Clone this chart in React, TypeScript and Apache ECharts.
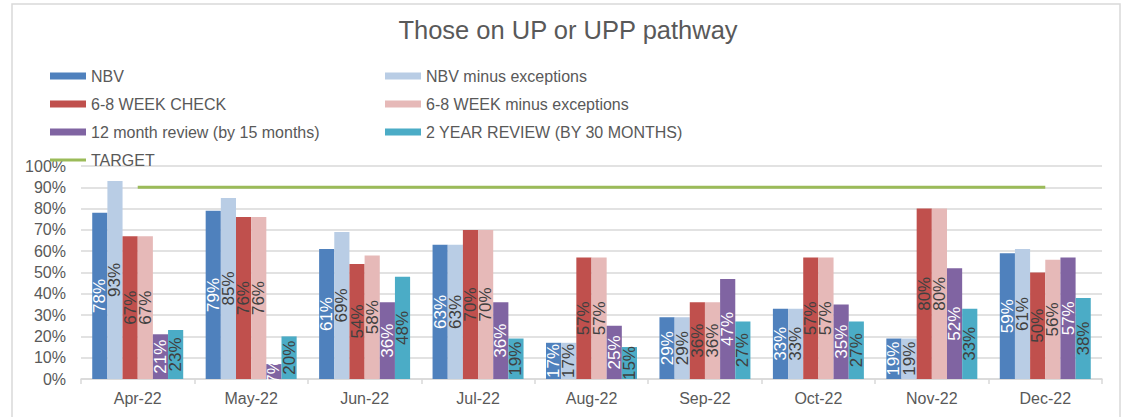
import React, { useEffect, useRef } from "react";
import * as echarts from "echarts";

const categories = ["Apr-22", "May-22", "Jun-22", "Jul-22", "Aug-22", "Sep-22", "Oct-22", "Nov-22", "Dec-22"];
const nbv = [78, 79, 61, 63, 17, 29, 33, 19, 59];
const nbvMinus = [93, 85, 69, 63, 17, 29, 33, 19, 61];
const week68 = [67, 76, 54, 70, 57, 36, 57, 80, 50];
const week68Minus = [67, 76, 58, 70, 57, 36, 57, 80, 56];
const month12 = [21, 7, 36, 36, 25, 47, 35, 52, 57];
const year2 = [23, 20, 48, 19, 15, 27, 27, 33, 38];
const target = [90, 90, 90, 90, 90, 90, 90, 90, 90];
const yTicks = [0, 10, 20, 30, 40, 50, 60, 70, 80, 90, 100];

const FONT = "'Liberation Sans', Arial, sans-serif";

export default function App() {
  const ref = useRef<HTMLDivElement>(null);
  useEffect(() => {
    if (!ref.current) return;
    const chart = echarts.init(ref.current, undefined, { renderer: "svg" });
    const bar = (name: string, data: number[], color: string, labelColor: string) => ({
      name,
      type: "bar",
      data,
      barGap: "0%",
      barCategoryGap: "19.8%",
      itemStyle: { color },
      label: {
        show: true,
        position: "inside",
        rotate: 90,
        formatter: "{c}%",
        color: labelColor,
        fontSize: 17,
        fontFamily: FONT,
      },
    });
    const legendText = { fontSize: 16, color: "#595959", lineHeight: 16, fontFamily: FONT };
    chart.setOption({
      animation: false,
      textStyle: { fontFamily: FONT },
      title: {
        text: "Those on UP or UPP pathway",
        left: 568,
        textAlign: "center",
        top: 17,
        padding: 0,
        textStyle: { fontSize: 25.5, fontWeight: "normal", color: "#595959", fontFamily: FONT },
      },
      graphic: [
        {
          type: "rect",
          shape: { x: 12, y: 4, width: 1108, height: 440 },
          style: { fill: "none", stroke: "#D9D9D9", lineWidth: 1.5 },
          silent: true,
        },
      ],
      legend: [
        {
          orient: "vertical",
          left: 50,
          top: 68,
          padding: 0,
          itemWidth: 36,
          itemHeight: 7,
          itemGap: 12,
          data: [
            { name: "NBV", icon: "rect" },
            { name: "6-8 WEEK CHECK", icon: "rect" },
            { name: "12 month review (by 15 months)", icon: "rect" },
          ],
          textStyle: legendText,
        },
        {
          orient: "vertical",
          left: 50,
          top: 152,
          padding: 0,
          itemWidth: 36,
          itemHeight: 3,
          data: [{ name: "TARGET", icon: "rect" }],
          textStyle: legendText,
        },
        {
          orient: "vertical",
          left: 385,
          top: 68,
          padding: 0,
          itemWidth: 36,
          itemHeight: 7,
          itemGap: 12,
          data: [
            { name: "NBV minus exceptions", icon: "rect" },
            { name: "6-8 WEEK minus exceptions", icon: "rect" },
            { name: "2 YEAR REVIEW (BY 30 MONTHS)", icon: "rect" },
          ],
          textStyle: legendText,
        },
      ],
      grid: { left: 81, right: 25, top: 166, bottom: 38, containLabel: false },
      xAxis: {
        type: "category",
        data: categories,
        axisLine: { lineStyle: { color: "#D9D9D9", width: 1.5 } },
        axisTick: { show: true, length: 5, lineStyle: { color: "#D9D9D9", width: 1.5 } },
        axisLabel: { color: "#595959", fontSize: 16, margin: 11, fontFamily: FONT },
      },
      yAxis: {
        type: "value",
        min: yTicks[0],
        max: yTicks[yTicks.length - 1],
        interval: 10,
        axisLine: { show: false },
        axisTick: { show: false },
        splitLine: { lineStyle: { color: "#D9D9D9", width: 1.5 } },
        axisLabel: { formatter: "{value}%", color: "#595959", fontSize: 16, margin: 15, fontFamily: FONT },
      },
      series: [
        bar("NBV", nbv, "#4F81BD", "#FFFFFF"),
        bar("NBV minus exceptions", nbvMinus, "#B9CDE5", "#404040"),
        bar("6-8 WEEK CHECK", week68, "#C0504D", "#404040"),
        bar("6-8 WEEK minus exceptions", week68Minus, "#E6B9B8", "#404040"),
        bar("12 month review (by 15 months)", month12, "#8064A2", "#FFFFFF"),
        bar("2 YEAR REVIEW (BY 30 MONTHS)", year2, "#4BACC6", "#404040"),
        {
          name: "TARGET",
          type: "line",
          data: target,
          symbol: "none",
          itemStyle: { color: "#9BBB59" },
          lineStyle: { color: "#9BBB59", width: 3 },
        },
      ],
    });
    return () => chart.dispose();
  }, []);
  return (
    <div
      ref={ref}
      style={{ position: "fixed", left: 0, top: 0, width: 1127, height: 417, background: "#FFFFFF" }}
    />
  );
}
